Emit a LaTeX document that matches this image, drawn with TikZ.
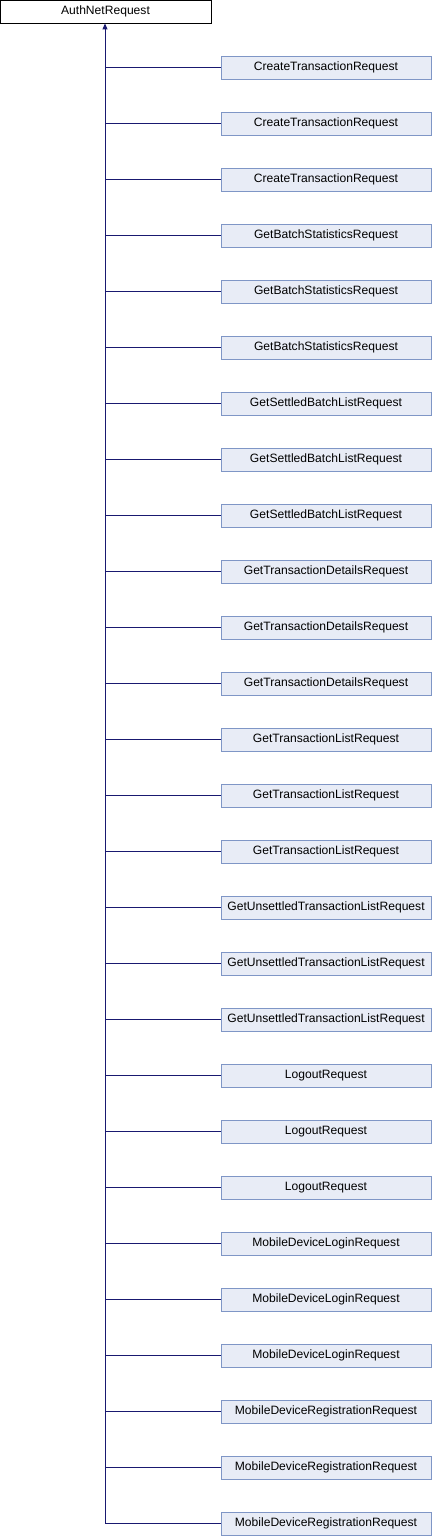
\documentclass[tikz,border=0pt]{standalone}
\usepackage{fontspec}
\setmainfont{Liberation Sans}
\usetikzlibrary{arrows.meta}
\definecolor{boxfill}{HTML}{E8ECF6}
\definecolor{boxline}{HTML}{7F96C6}
\definecolor{edge}{HTML}{191970}
\begin{document}
\begin{tikzpicture}[x=1pt,y=1pt,
  base/.style={draw=black,fill=white,minimum width=211pt,minimum height=23pt,inner sep=0pt,font=\fontsize{12.1}{14}\selectfont,line width=0.8pt},
  child/.style={draw=boxline,fill=boxfill,minimum width=210pt,minimum height=23pt,inner sep=0pt,font=\fontsize{12.1}{14}\selectfont,line width=0.8pt},
  conn/.style={draw=edge,line width=1pt}]
\useasboundingbox (0,0) rectangle (432,-1536);
\node[base] (root) at (105.5,-11.5) {AuthNetRequest};
\coordinate (top) at (105,-23);
\foreach [count=\i from 0] \t in {CreateTransactionRequest,CreateTransactionRequest,CreateTransactionRequest,GetBatchStatisticsRequest,GetBatchStatisticsRequest,GetBatchStatisticsRequest,GetSettledBatchListRequest,GetSettledBatchListRequest,GetSettledBatchListRequest,GetTransactionDetailsRequest,GetTransactionDetailsRequest,GetTransactionDetailsRequest,GetTransactionListRequest,GetTransactionListRequest,GetTransactionListRequest,GetUnsettledTransactionListRequest,GetUnsettledTransactionListRequest,GetUnsettledTransactionListRequest,LogoutRequest,LogoutRequest,LogoutRequest,MobileDeviceLoginRequest,MobileDeviceLoginRequest,MobileDeviceLoginRequest,MobileDeviceRegistrationRequest,MobileDeviceRegistrationRequest,MobileDeviceRegistrationRequest}{
  \node[child] (c\i) at (326,-67.5-56*\i) {\t};
  \coordinate (j\i) at (105,-67.5-56*\i);
  \draw[conn] (c\i.west) -- (j\i);
}
\draw[conn,-{Triangle[length=6pt,width=5pt]}] (j26) -- (root.south -| top);
\end{tikzpicture}
\end{document}
